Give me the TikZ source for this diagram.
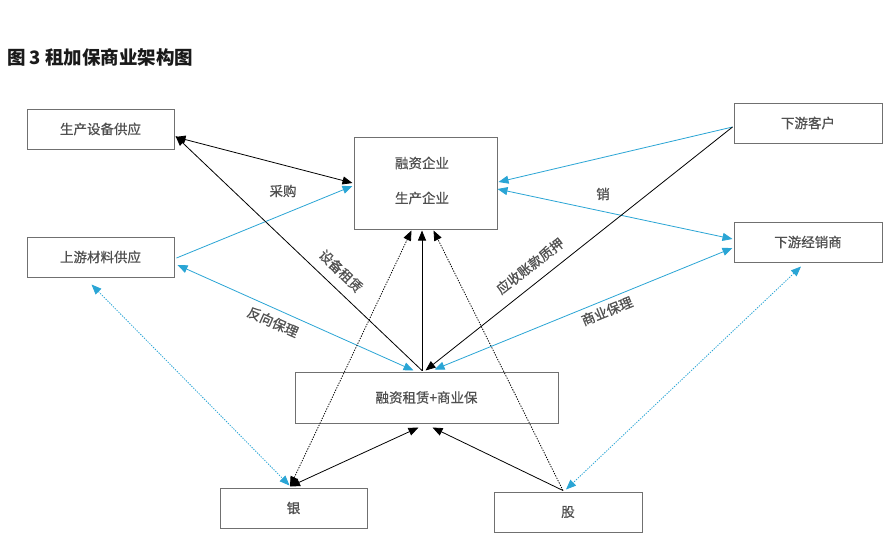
\documentclass[tikz,border=0pt]{standalone}
\usepackage{fontspec}
\setmainfont{Noto Sans CJK SC}
\newfontfamily\medf[FakeBold=0.7]{Noto Sans CJK SC}
\usetikzlibrary{arrows.meta,calc}
\definecolor{lblue}{HTML}{2AA5D5}
\definecolor{tgray}{HTML}{505050}
\definecolor{bgray}{HTML}{707070}
\definecolor{ttl}{HTML}{1A1A1A}
\begin{document}
\begin{tikzpicture}[x=1pt,y=-1pt,
  box/.style={draw=bgray,line width=1pt,inner sep=0pt,text=tgray,font=\medf\fontsize{13.5}{16}\selectfont},
  lbl/.style={text=tgray,inner sep=0pt,font=\medf\fontsize{13.5}{16}\selectfont},
  blk/.style={draw=black,line width=0.8pt},
  blu/.style={draw=lblue,line width=0.8pt},
  dot/.style={dash pattern=on 1.3pt off 1.3pt}]
\fill[white] (0,0) rectangle (895,555);
\useasboundingbox (0,0) rectangle (895,555);
\node[anchor=west,text=ttl,inner sep=0pt,font=\fontsize{18.5}{22}\bfseries\selectfont] (title) at (7,57) {图 3 租加保商业架构图};
% boxes
\node[box,minimum width=147pt,minimum height=40pt] (A) at (100.5,129) {生产设备供应};
\node[box,minimum width=147pt,minimum height=40pt] (B) at (100.5,257) {上游材料供应};
\node[box,minimum width=143pt,minimum height=92pt] (C) at (425.5,183) {};
\node[lbl] (C1) at (422,163) {融资企业};
\node[lbl] (C2) at (422,198) {生产企业};
\node[box,minimum width=148pt,minimum height=40pt] (D) at (808,123) {下游客户};
\node[box,minimum width=148pt,minimum height=40pt] (E) at (808,242) {下游经销商};
\node[box,minimum width=263pt,minimum height=51pt] (F) at (426.5,397.5) {融资租赁+商业保};
\node[box,minimum width=147pt,minimum height=40pt] (G) at (293.5,508) {银};
\node[box,minimum width=148pt,minimum height=40pt] (H) at (568,512) {股};
% connectors
\draw[blk,{Triangle[length=10pt,width=8pt]}-{Triangle[length=10pt,width=8pt]}] ($(A.east)+(1,8)$) -- ($(C.west)+(-1,0)$);
\draw[blu,-{Triangle[length=10pt,width=8pt]}] ($(B.east)+(2,1)$) -- ($(C.west)+(-1,3)$);
\draw[blk,-{Triangle[length=10pt,width=8pt]}] ($(F.north)+(-4.5,-1)$) -- ($(A.east)+(1,7)$);
\draw[blu,{Triangle[length=10pt,width=8pt]}-{Triangle[length=10pt,width=8pt]}] ($(B.east)+(3,8)$) -- ($(F.north)+(-13,-1)$);
\draw[blk,-{Triangle[length=10pt,width=8pt]}] ($(F.north)+(-4.5,-1)$) -- ($(C.south)+(-3.5,1)$);
\draw[blk,dot,{Triangle[length=10pt,width=8pt]}-{Triangle[length=10pt,width=8pt]}] ($(G.north)+(-3.5,-1)$) -- ($(C.south)+(-14,1)$);
\draw[blk,dot,-{Triangle[length=10pt,width=8pt]}] ($(H.north)+(-5,-1)$) -- ($(C.south)+(8,1)$);
\draw[blk,{Triangle[length=10pt,width=8pt]}-{Triangle[length=10pt,width=8pt]}] ($(G.north)+(-3.5,-1)$) -- ($(F.south)+(-8,4)$);
\draw[blk,-{Triangle[length=10pt,width=8pt]}] ($(H.north)+(-5,-1)$) -- ($(F.south)+(6,4)$);
\draw[blu,dot,{Triangle[length=10pt,width=8pt]}-{Triangle[length=10pt,width=8pt]}] ($(B.south)+(-9,7)$) -- ($(G.north)+(-4,-2)$);
\draw[blu,dot,{Triangle[length=10pt,width=8pt]}-{Triangle[length=10pt,width=8pt]}] ($(E.south)+(-7,4)$) -- ($(H.north)+(-2,-2)$);
\draw[blu,-{Triangle[length=10pt,width=8pt]}] ($(D.west)+(-1,4)$) -- ($(C.east)+(1,-1)$);
\draw[blu,{Triangle[length=10pt,width=8pt]}-{Triangle[length=10pt,width=8pt]}] ($(C.east)+(0,6)$) -- ($(E.west)+(-1,-3)$);
\draw[blu,{Triangle[length=10pt,width=8pt]}-{Triangle[length=10pt,width=8pt]}] ($(F.north)+(8,-2)$) -- ($(E.west)+(-1,6)$);
\draw[blk,-{Triangle[length=10pt,width=8pt]}] ($(D.west)+(-1,4)$) -- ($(F.north)+(-1,-1)$);
% labels
\node[lbl] (l1) at (283,191) {采购};
\node[lbl] (l2) at (603,194) {销};
\node[lbl,rotate=-44] (l3) at (341,271) {设备租赁};
\node[lbl,rotate=38] (l4) at (530,266) {应收账款质押};
\node[lbl,rotate=-24] (l5) at (273,322) {反向保理};
\node[lbl,rotate=22] (l6) at (607,311) {商业保理};
\end{tikzpicture}
\end{document}
